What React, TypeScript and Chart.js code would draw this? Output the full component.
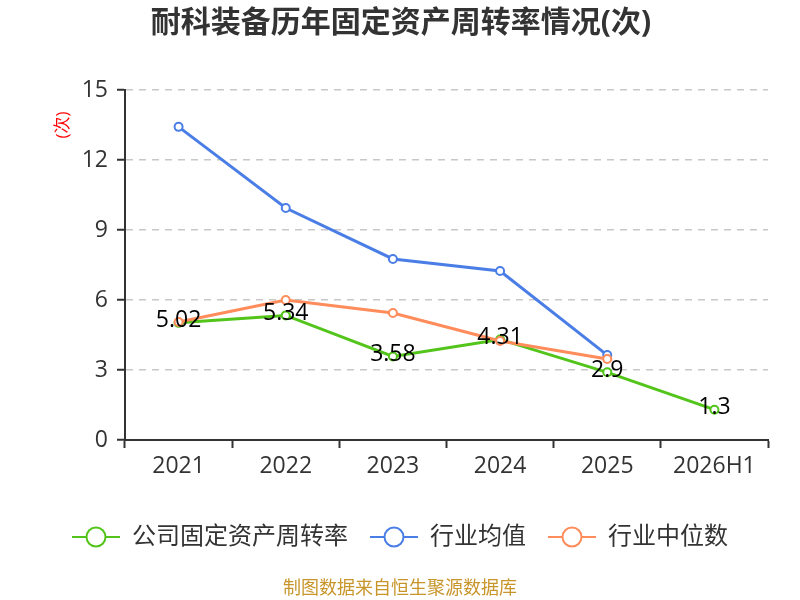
import React, { useEffect, useRef } from "react";
import { Chart, registerables } from "chart.js";

Chart.register(...registerables);

const titleText = "耐科装备历年固定资产周转率情况(次)";
const yUnit = "(次)";
const sourceText = "制图数据来自恒生聚源数据库";
const categories = ["2021", "2022", "2023", "2024", "2025", "2026H1"];
const companyValues = [5.02, 5.34, 3.58, 4.31, 2.9, 1.3];
const industryAvg = [13.42, 9.94, 7.76, 7.24, 3.64, null];
const industryMedian = [5.06, 6.0, 5.44, 4.24, 3.47, null];
const seriesNames = ["公司固定资产周转率", "行业均值", "行业中位数"];
const seriesColors = ["#52c41a", "#4a7ee6", "#ff8c5a"];
const yMin = 0;
const yMax = 15;
const yStep = 3;

const FONT = '"Open Sans", "Noto Sans CJK SC", sans-serif';

const labelPlugin = {
  id: "valueLabels",
  afterDatasetsDraw(chart: any) {
    const ctx = chart.ctx;
    const meta = chart.getDatasetMeta(0);
    ctx.save();
    ctx.font = `23px ${FONT}`;
    ctx.fillStyle = "#000";
    ctx.textAlign = "center";
    ctx.textBaseline = "middle";
    meta.data.forEach((pt: any, i: number) => {
      const v = companyValues[i];
      if (v == null) return;
      ctx.fillText(String(v), pt.x, pt.y - 2);
    });
    ctx.restore();
  },
};

const decorPlugin = {
  id: "decor",
  afterDraw(chart: any) {
    const ctx = chart.ctx;
    ctx.save();
    // title
    ctx.font = `bold 30px ${FONT}`;
    ctx.fillStyle = "#333";
    ctx.textAlign = "center";
    ctx.textBaseline = "middle";
    ctx.fillText(titleText, 401, 23);

    // y unit
    ctx.save();
    ctx.translate(63, 125);
    ctx.rotate(-Math.PI / 2);
    ctx.font = `17px ${FONT}`;
    ctx.fillStyle = "#ff0000";
    ctx.textAlign = "center";
    ctx.textBaseline = "middle";
    ctx.fillText(yUnit, 0, 0);
    ctx.restore();

    // legend
    ctx.font = `24px ${FONT}`;
    const symW = 48;
    const symGap = 12;
    const itemGap = 22;
    const widths = seriesNames.map((n) => ctx.measureText(n).width);
    const total =
      widths.reduce((a, w) => a + symW + symGap + w, 0) + itemGap * (seriesNames.length - 1);
    let x = 400 - total / 2;
    const ly = 537;
    seriesNames.forEach((name, i) => {
      const c = seriesColors[i];
      ctx.strokeStyle = c;
      ctx.lineWidth = 2;
      ctx.beginPath();
      ctx.moveTo(x, ly);
      ctx.lineTo(x + symW, ly);
      ctx.stroke();
      ctx.beginPath();
      ctx.arc(x + symW / 2, ly, 9.5, 0, Math.PI * 2);
      ctx.fillStyle = "#fff";
      ctx.fill();
      ctx.stroke();
      ctx.fillStyle = "#333";
      ctx.textAlign = "left";
      ctx.textBaseline = "middle";
      ctx.fillText(name, x + symW + symGap, ly);
      x += symW + symGap + widths[i] + itemGap;
    });

    // footer
    ctx.font = `18px ${FONT}`;
    ctx.fillStyle = "#c8952a";
    ctx.textAlign = "center";
    ctx.textBaseline = "middle";
    ctx.fillText(sourceText, 400, 589);
    ctx.restore();
  },
};

export default function App() {
  const ref = useRef<HTMLCanvasElement | null>(null);
  useEffect(() => {
    if (!ref.current) return;
    const data = [companyValues, industryAvg, industryMedian];
    const orders = [2, 1, 0];
    const chart = new Chart(ref.current, {
      type: "line",
      data: {
        labels: categories,
        datasets: seriesNames.map((name, i) => ({
          label: name,
          data: data[i] as any,
          borderColor: seriesColors[i],
          backgroundColor: seriesColors[i],
          borderWidth: 3,
          pointRadius: 4,
          pointBorderWidth: 2,
          pointBackgroundColor: "#fff",
          pointBorderColor: seriesColors[i],
          tension: 0,
          spanGaps: false,
          order: orders[i],
        })),
      },
      options: {
        responsive: false,
        animation: false,
        devicePixelRatio: 1,
        layout: { padding: { left: 0, top: 90, right: 32, bottom: 0 } },
        plugins: {
          legend: { display: false },
          title: { display: false },
          tooltip: { enabled: false },
        },
        scales: {
          x: {
            offset: true,
            grid: {
              display: true,
              offset: true,
              drawOnChartArea: false,
              drawTicks: true,
              tickLength: 8,
              tickColor: "#333",
              tickWidth: 2,
              color: "#333",
            },
            border: { display: true, color: "#333", width: 2 },
            ticks: {
              color: "#333",
              font: { size: 23, family: FONT },
              padding: 5,
              maxRotation: 0,
              autoSkip: false,
            },
            afterFit: (s: any) => {
              s.height = 160;
            },
          },
          y: {
            min: yMin,
            max: yMax,
            ticks: {
              stepSize: yStep,
              color: "#333",
              font: { size: 23, family: FONT },
              padding: 9,
            },
            grid: {
              color: (c: any) => (c.tick && c.tick.value === 0 ? "rgba(0,0,0,0)" : "#c8c8c8"),
              lineWidth: 1.5,
              drawTicks: true,
              tickLength: 8,
              tickColor: "#333",
              tickWidth: 2,
            },
            border: { display: true, color: "#333", width: 2, dash: [7, 6] },
            afterFit: (s: any) => {
              s.width = 125;
            },
          },
        },
      },
      plugins: [labelPlugin, decorPlugin],
    });
    return () => chart.destroy();
  }, []);
  return (
    <div style={{ position: "fixed", left: 0, top: 0, width: 800, height: 600, background: "#fff" }}>
      <canvas ref={ref} width={800} height={600} style={{ width: 800, height: 600 }} />
    </div>
  );
}
